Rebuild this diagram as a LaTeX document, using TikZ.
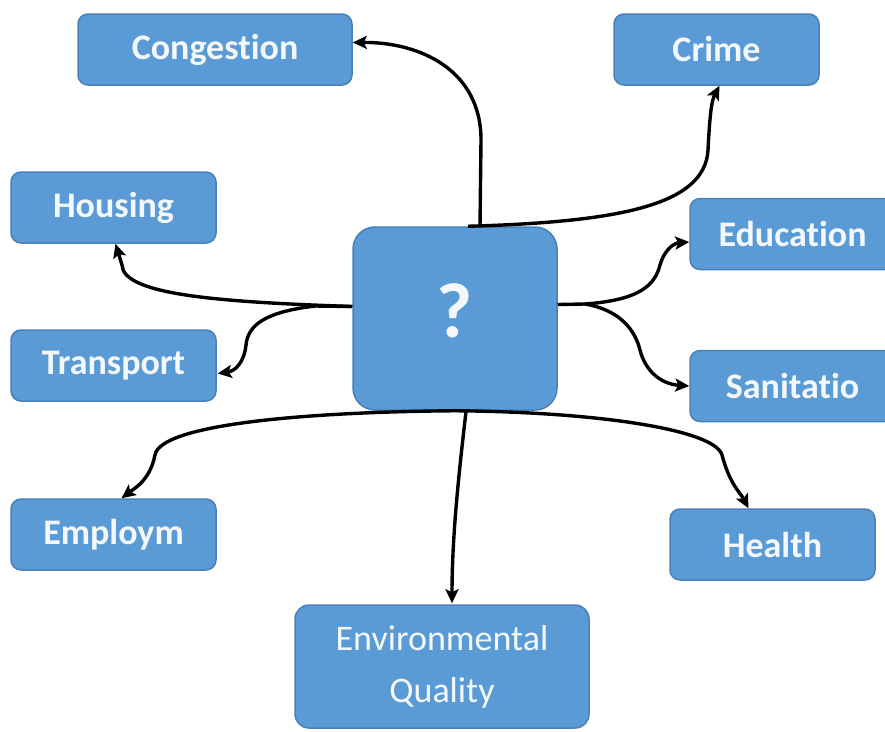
\documentclass[tikz,border=0pt]{standalone}
\usepackage{fontspec}
\setmainfont{Carlito}[Ligatures={NoCommon}]
\usetikzlibrary{arrows.meta,calc}
\definecolor{boxfill}{HTML}{5B9BD5}
\definecolor{boxline}{HTML}{4A80B8}
\definecolor{boxtext}{HTML}{F4F8FC}
\tikzset{
  topic/.style={draw=boxline, line width=1.5pt, fill=boxfill, rounded corners=10pt,
    minimum width=205pt, minimum height=71pt, inner sep=0pt, text=boxtext,
    font=\bfseries\fontsize{36}{40}\selectfont},
  hub/.style={draw=boxline, line width=1.5pt, fill=boxfill, rounded corners=22pt,
    minimum width=204pt, minimum height=183pt, inner sep=0pt, text=boxtext,
    font=\bfseries\fontsize{78}{84}\selectfont},
  envbox/.style={draw=boxline, line width=1.5pt, fill=boxfill, rounded corners=14pt,
    minimum width=294pt, minimum height=123pt, inner sep=0pt, text=boxtext, align=center,
    font=\fontsize{36}{52}\selectfont},
  link/.style={line width=3.4pt, -{Stealth[length=14pt,width=13pt,inset=3pt]}}
}
\begin{document}
\begin{tikzpicture}[x=1pt,y=-1pt]
\useasboundingbox (0,0) rectangle (885,731);
\fill[white] (0,0) rectangle (885,731);
\node[hub] (c) at (455,318.5) {\raisebox{15pt}{?}};
\node[topic, minimum width=274pt] (cong) at (215,49.5) {Congestion};
\node[topic] (crime) at (716.5,49.5) {Crime};
\node[topic] (house) at (113.5,207.5) {Housing};
\node[topic] (edu) at (792.5,234) {Education};
\node[topic] (trans) at (113.5,365.5) {Transport};
\node[topic] (san) at (792.5,386) {Sanitatio};
\node[topic] (emp) at (113.5,534.5) {Employm};
\node[topic] (health) at (772.5,544.5) {Health};
\node[envbox] (env) at (442,666.5) {Environmental\\Quality};

\coordinate (ctop) at ($(c.north)+(25,0)$);
\coordinate (cleft) at ($(c.west)+(0,-12)$);
\coordinate (cright) at ($(c.east)+(0,-14)$);
\coordinate (cbot) at (c.south);
\coordinate (cbot2) at ($(c.south)+(11,1)$);

\draw[link] (ctop) -- (481,140) .. controls (481,70) and (420,42) .. ($(cong.east)+(0,-7)$);
\draw[link] ($(ctop)+(-12,0)$) .. controls (620,222) and (705,205) .. (708,150)
   .. controls (710,110) and (712,100) .. ($(crime.south)+(3,0)$);
\draw[link] (cleft) .. controls (220,302) and (123,295) .. (122,265) -- ($(house.south)+(2,0)$);
\draw[line width=3.4pt] (cleft) -- (315,306);
\draw[link] (315,306) .. controls (265,312) and (248,325) .. (246,345)
   .. controls (244,363) and (235,371) .. ($(trans.east)+(1,8)$);
\draw[link] (cright) -- (585,304) .. controls (640,300) and (655,285) .. (660,265)
   .. controls (665,248) and (675,243) .. ($(edu.west)+(0,8)$);
\draw[link] (585,304) .. controls (620,310) and (635,330) .. (640,350)
   .. controls (645,370) and (660,384) .. (san.west);
\draw[link] (cbot) .. controls (300,412) and (160,425) .. (155,455)
   .. controls (150,480) and (135,488) .. ($(emp.north)+(8,0)$);
\draw[link] (cbot) .. controls (600,412) and (715,430) .. (722,455)
   .. controls (730,485) and (740,492) .. ($(health.north)+(-24,0)$);
\draw[link] (cbot2) .. controls (458,480) and (452,540) .. ($(env.north)+(10,-1)$);
\end{tikzpicture}
\end{document}
